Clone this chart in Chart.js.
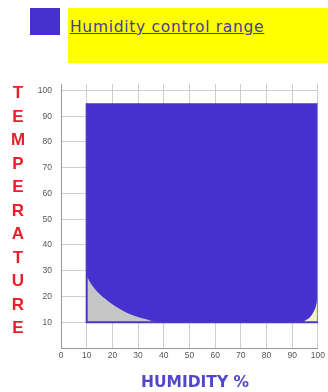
<!DOCTYPE html>
<html>
<head>
<meta charset="utf-8">
<script src="https://cdn.jsdelivr.net/npm/chart.js@4/dist/chart.umd.min.js"></script>
<style>
  html, body { margin: 0; padding: 0; background: #fff; }
  #wrap { position: relative; width: 328px; height: 392px; overflow: hidden; }
  #chart { position: absolute; left: 0; top: 0; }
  #swatch { position: absolute; left: 30px; top: 8px; width: 30px; height: 27px; background: #4630d0; }
  #band { position: absolute; left: 68px; top: 8px; width: 260px; height: 55px; background: #ffff00; }
  #band span { position: absolute; left: 2px; top: 10px; font: 15.5px "DejaVu Sans", sans-serif; letter-spacing: 0.7px; color: #463c9c; text-decoration: underline; }
  #ytitle { position: absolute; left: 7px; top: 81px; width: 22px; font: bold 17px "Liberation Sans", Arial, sans-serif; color: #e8202a; text-align: center; line-height: 23.5px; }
  #xtitle { position: absolute; left: 0; width: 390px; top: 373px; text-align: center; font: bold 15.5px "DejaVu Sans", sans-serif; color: #5048c8; }
</style>
</head>
<body>
<div id="wrap">
  <canvas id="chart" width="328" height="392"></canvas>
  <div id="swatch"></div>
  <div id="band"><span>Humidity control range</span></div>
  <div id="ytitle"></div>
  <div id="xtitle"></div>
</div>
<script>
  // control range: humidity 10..100 %, temperature 10..95
  const rangeHumidity = [10, 100];
  const rangeTop = [95, 95];
  const rangeBottom = 10;

  // grey area left out at low humidity / low temperature
  const lowHumidity = [10, 12, 15, 20, 25, 30, 35, 37];
  const lowTemp = [28, 24.5, 21, 17, 14, 12, 10.6, 10];

  // small corner left out near 100 % humidity
  const cornerHumidity = [94, 97, 98.8, 99.6, 100];
  const cornerTemp = [10, 12, 15, 18, 21];

  const yTitle = "TEMPERATURE";
  const xTitle = "HUMIDITY %";

  document.getElementById("ytitle").innerHTML = yTitle.split("").join("<br>");
  document.getElementById("xtitle").textContent = xTitle;

  const pts = (xs, ys) => xs.map((x, i) => ({ x: x, y: ys[i] }));

  new Chart(document.getElementById("chart").getContext("2d"), {
    type: "scatter",
    data: {
      datasets: [
        {
          label: "Humidity control range",
          data: pts(rangeHumidity, rangeTop),
          showLine: true,
          pointRadius: 0,
          borderWidth: 0,
          backgroundColor: "#4630d0",
          fill: { value: rangeBottom },
          order: 3,
        },
        {
          data: pts(lowHumidity, lowTemp),
          showLine: true,
          pointRadius: 0,
          borderWidth: 0,
          tension: 0.3,
          backgroundColor: "#c6c6c6",
          fill: { value: rangeBottom },
          order: 2,
        },
        {
          data: pts(cornerHumidity, cornerTemp),
          showLine: true,
          pointRadius: 0,
          borderWidth: 0,
          tension: 0.3,
          backgroundColor: "#f2f0c4",
          fill: { value: rangeBottom },
          order: 1,
        },
        {
          // outline of the range box
          data: [{ x: 100, y: 10 }, { x: 10, y: 10 }, { x: 10, y: 95 }],
          showLine: true,
          pointRadius: 0,
          borderWidth: 2,
          borderColor: "#4a36c8",
          fill: false,
          order: 0,
        },
        {
          // lighter right edge
          data: [{ x: 100, y: 95 }, { x: 100, y: 10 }],
          showLine: true,
          pointRadius: 0,
          borderWidth: 2,
          borderColor: "#8c80e0",
          fill: false,
          order: 0,
        },
      ],
    },
    options: {
      responsive: false,
      animation: false,
      layout: { padding: { top: 84, left: 0, right: 8, bottom: 0 } },
      plugins: { legend: { display: false }, tooltip: { enabled: false } },
      scales: {
        x: {
          type: "linear",
          min: 0,
          max: 100,
          ticks: { stepSize: 10, color: "#555", font: { size: 8.5 }, padding: 3 },
          grid: { color: "#cfcfcf", tickLength: 0 },
          border: { color: "#999" },
          afterFit: (s) => { s.height = 44; },
        },
        y: {
          min: 0,
          max: 102.5,
          ticks: { stepSize: 10, includeBounds: false, color: "#555", font: { size: 8.5 }, padding: 9, callback: (v) => (v === 0 ? "" : v) },
          grid: { color: "#cfcfcf", tickLength: 0 },
          border: { color: "#999" },
          afterFit: (s) => { s.width = 61; },
        },
      },
    },
  });
</script>
</body>
</html>
